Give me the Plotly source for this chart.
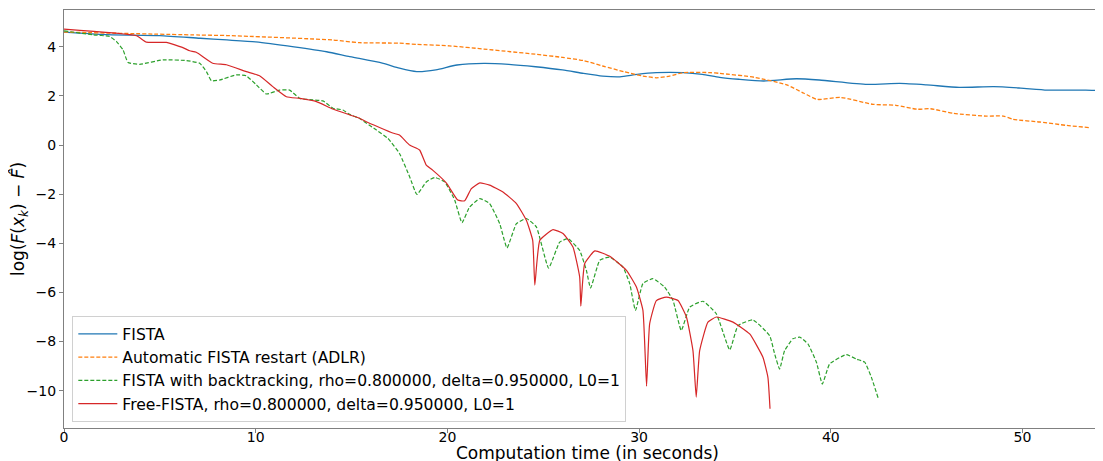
import plotly.graph_objects as go

# ---------------- data ----------------
fista_t = [0.0, 2.2, 5.0, 7.1, 8.5, 10.0, 12.0, 13.7, 14.9, 15.4, 16.65, 17.5, 18.4, 19.4, 20.5,
           21.9, 23.2, 24.6, 26.0, 27.1, 28.1, 29.0, 29.9, 30.9, 32.3, 33.3, 34.2, 35.2, 36.5,
           38.2, 39.4, 41.9, 43.6, 45.0, 46.7, 48.5, 49.9, 51.3, 53.3, 54.2]
fista_v = [4.6, 4.5, 4.46, 4.35, 4.28, 4.2, 4.0, 3.8, 3.6, 3.53, 3.33, 3.13, 2.99, 3.06, 3.26,
           3.33, 3.29, 3.19, 3.06, 2.92, 2.81, 2.78, 2.88, 2.95, 2.95, 2.88, 2.76, 2.68, 2.61,
           2.7, 2.65, 2.47, 2.51, 2.45, 2.35, 2.38, 2.32, 2.24, 2.24, 2.21]

adlr_t = [0.0, 7.1, 8.5, 14.0, 15.4, 17.5, 18.4, 20.1, 21.9, 23.3, 24.6, 26.0, 27.1, 28.1,
          29.2, 30.2, 30.9, 31.6, 32.3, 33.7, 34.2, 36.0, 37.7, 38.6, 39.3, 40.5, 42.2, 43.4,
          44.5, 45.2, 46.4, 48.1, 49.0, 49.5, 50.9, 52.3, 53.5]
adlr_v = [4.6, 4.48, 4.46, 4.28, 4.17, 4.15, 4.1, 4.04, 3.91, 3.8, 3.7, 3.57, 3.44, 3.22,
          2.99, 2.81, 2.74, 2.81, 2.95, 2.95, 2.92, 2.76, 2.45, 2.11, 1.86, 1.94, 1.66, 1.62,
          1.46, 1.48, 1.29, 1.18, 1.18, 1.05, 0.94, 0.8, 0.71]

bt_t = [0.0, 1.52, 2.38, 2.73, 3.08, 3.34, 3.95, 5.17, 6.39, 7.08, 7.43, 7.69, 8.12, 8.99,
        9.51, 10.04, 10.56, 11.25, 11.77, 12.3, 12.99, 13.51, 14.03, 14.55, 14.9, 15.42,
        16.3, 16.9, 17.5, 18.03, 18.41, 18.9, 19.34, 19.86, 20.38, 20.76, 21.16, 21.69,
        22.2, 22.73, 23.11, 23.6, 24.12, 24.64, 25.28, 25.86, 26.29, 26.9, 27.25, 27.47,
        27.95, 28.47, 29.16, 29.51, 29.81, 30.2, 30.72, 31.33, 31.77, 32.2, 32.64, 33.33,
        34.03, 34.73, 35.16, 35.94, 36.81, 37.07, 37.33, 37.59, 38.02, 38.38, 38.81, 39.25,
        39.56, 39.94, 40.81, 41.33, 41.77, 42.12, 42.47]
bt_v = [4.65, 4.49, 4.42, 4.22, 3.88, 3.36, 3.29, 3.47, 3.44, 3.33, 2.99, 2.62, 2.65, 2.86,
        2.82, 2.45, 2.08, 2.24, 2.24, 1.9, 1.84, 1.8, 1.5, 1.43, 1.25, 1.08,
        0.61, 0.27, -0.34, -1.29, -2.01, -1.5, -1.32, -1.5, -2.24, -3.16, -2.52, -2.18,
        -2.38, -3.2, -4.19, -3.2, -2.99, -3.33, -5.01, -3.95, -3.81, -4.29, -5.1, -5.82,
        -4.69, -4.56, -4.97, -5.64, -6.73, -5.64, -5.44, -5.78, -6.33, -7.55, -6.6, -6.36,
        -6.87, -8.34, -7.35, -7.12, -7.76, -8.5, -9.12, -8.37, -7.89, -7.82, -8.1, -8.84,
        -9.73, -8.91, -8.53, -8.71, -8.84, -9.46, -10.3]

free_t = [0.0, 3.78, 4.3, 5.34, 6.2, 6.56, 6.9, 7.76, 8.47, 9.51, 10.2, 10.89, 11.6, 12.3,
          13.17, 14.02, 15.42, 15.77, 17.15, 17.5, 18.03, 18.55, 18.9, 19.23, 19.95, 20.54,
          20.9, 21.25, 21.69, 22.2, 22.88, 23.6, 24.12, 24.45, 24.56, 24.82, 25.51, 26.03,
          26.55, 26.9, 26.96, 27.16, 27.69, 28.47, 29.34, 29.86, 30.2, 30.39, 30.55, 30.9,
          31.42, 32.03, 32.47, 32.81, 32.98, 33.16, 33.59, 34.03, 34.9, 35.77, 36.46, 36.72,
          36.83]
free_v = [4.72, 4.45, 4.19, 4.18, 3.97, 3.84, 3.78, 3.33, 3.27, 2.99, 2.82, 2.38, 1.97, 1.9,
          1.77, 1.47, 1.09, 0.95, 0.49, 0.41, 0.0, -0.2, -0.82, -1.02, -1.55, -2.24,
          -2.27, -1.77, -1.54, -1.63, -1.9, -2.38, -3.06, -3.88, -5.7, -3.88, -3.44, -3.6,
          -4.15, -5.37, -6.56, -4.83, -4.31, -4.53, -5.1, -5.78, -6.73, -9.82, -7.28, -6.33,
          -6.19, -6.33, -7.0, -8.37, -10.26, -8.37, -7.21, -7.0, -7.21, -7.69, -8.64, -9.46,
          -10.74]

names = ["FISTA",
         "Automatic FISTA restart (ADLR)",
         "FISTA with backtracking, rho=0.800000, delta=0.950000, L0=1",
         "Free-FISTA, rho=0.800000, delta=0.950000, L0=1"]
colors = ["#1f77b4", "#ff7f0e", "#2ca02c", "#d62728"]

x_ticks = [0, 10, 20, 30, 40, 50]
y_ticks = [-10, -8, -6, -4, -2, 0, 2, 4]
y_ticktext = ["\u221210", "\u22128", "\u22126", "\u22124", "\u22122", "0", "2", "4"]

# ---------------- figure ----------------
fig = go.Figure()
fig.add_trace(go.Scatter(x=fista_t, y=fista_v, mode="lines", name=names[0],
                         line=dict(color=colors[0], width=1.3, shape="spline", smoothing=0.6)))
fig.add_trace(go.Scatter(x=adlr_t, y=adlr_v, mode="lines", name=names[1],
                         line=dict(color=colors[1], width=1.3, dash="4px,2px",
                                   shape="spline", smoothing=0.6)))
fig.add_trace(go.Scatter(x=bt_t, y=bt_v, mode="lines", name=names[2],
                         line=dict(color=colors[2], width=1.2, dash="4px,2px",
                                   shape="spline", smoothing=0.4)))
fig.add_trace(go.Scatter(x=free_t, y=free_v, mode="lines", name=names[3],
                         line=dict(color=colors[3], width=1.2, shape="spline", smoothing=0.4)))

axis_col = "#808080"
fig.update_layout(
    width=1095, height=453,
    margin=dict(l=56, r=0, t=2, b=33),
    paper_bgcolor="white", plot_bgcolor="white",
    font=dict(family="DejaVu Sans", color="black"),
    showlegend=True,
    legend=dict(x=0.008, y=0.014, xanchor="left", yanchor="bottom",
                bgcolor="rgba(255,255,255,0.8)", bordercolor="#d0d0d0", borderwidth=1,
                font=dict(size=15.6, family="DejaVu Sans", color="black"),
                itemwidth=39, tracegroupgap=0),
    xaxis=dict(range=[0, 54.2], showgrid=False, zeroline=False,
               showline=True, linecolor=axis_col, linewidth=1.2, mirror=True,
               ticks="outside", ticklen=4, tickcolor=axis_col,
               tickvals=x_ticks, tickfont=dict(size=14),
               ticklabelstandoff=-8,
               automargin=False),
    yaxis=dict(range=[-11.52, 5.5], showgrid=False, zeroline=False,
               showline=True, linecolor=axis_col, linewidth=1.2,
               ticks="outside", ticklen=4, tickcolor=axis_col,
               tickvals=y_ticks, ticktext=y_ticktext,
               tickfont=dict(size=14),
               title=dict(text="log(<i>F</i>(<i>x</i><sub><i>k</i></sub>) \u2212 <i>F\u0302</i>)",
                          font=dict(size=17), standoff=6),
               automargin=False),
    annotations=[dict(text="Computation time (in seconds)", xref="paper", yref="paper",
                      x=0.5, y=0, xanchor="center", yanchor="middle",
                      xshift=4, yshift=-24.5, showarrow=False,
                      font=dict(size=17, family="DejaVu Sans", color="black"))],
)

fig.write_html("out.html")
